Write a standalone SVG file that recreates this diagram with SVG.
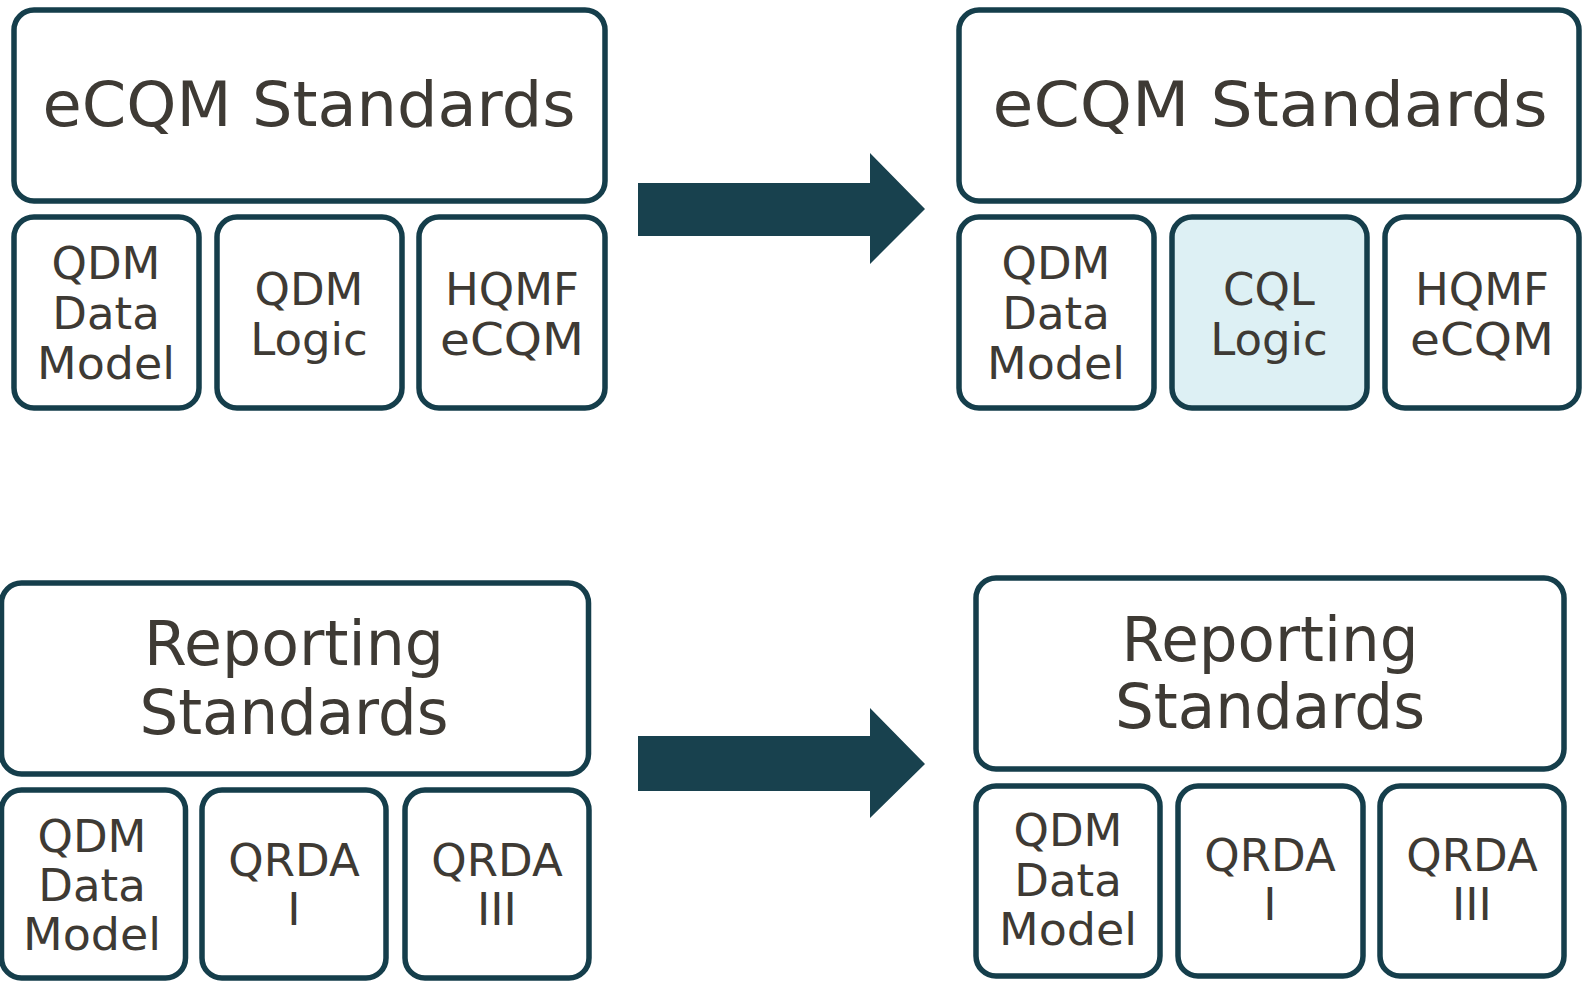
<svg xmlns="http://www.w3.org/2000/svg" width="1582" height="981" viewBox="0 0 1582 981">
<style>
.box{fill:#ffffff;stroke:#153e4b;stroke-width:5.5}
.hl{fill:#ddf0f4}
.arrow{fill:#18414e}
text{font-family:"DejaVu Sans","Liberation Sans",sans-serif;fill:#3e3a34;text-anchor:middle}
.big{font-size:62px}
.sm{font-size:45px}
</style>
<rect width="1582" height="981" fill="#ffffff"/>
<g id="connectors">
<polygon class="arrow" points="638,183 870,183 870,153 925,209 870,264 870,236 638,236"/>
<polygon class="arrow" points="638,736 870,736 870,708 925,764 870,818 870,791 638,791"/>
</g>
<g id="ecqm-old">
<rect class="box" x="14" y="10" width="591" height="191" rx="20"/>
<text class="big" x="309" y="126" textLength="533" lengthAdjust="spacingAndGlyphs">eCQM Standards</text>
</g>
<g id="qdm-model-1">
<rect class="box" x="14" y="217" width="185" height="191" rx="20"/>
<text class="sm" x="106" y="279">QDM</text>
<text class="sm" x="106" y="329">Data</text>
<text class="sm" x="106" y="379" textLength="138" lengthAdjust="spacingAndGlyphs">Model</text>
</g>
<g id="qdm-logic">
<rect class="box" x="217" y="217" width="185" height="191" rx="20"/>
<text class="sm" x="309" y="305">QDM</text>
<text class="sm" x="309" y="355">Logic</text>
</g>
<g id="hqmf-1">
<rect class="box" x="419" y="217" width="186" height="191" rx="20"/>
<text class="sm" x="512" y="305">HQMF</text>
<text class="sm" x="512" y="355" textLength="144" lengthAdjust="spacingAndGlyphs">eCQM</text>
</g>
<g id="ecqm-new">
<rect class="box" x="959" y="10" width="620" height="191" rx="20"/>
<text class="big" x="1270" y="126" textLength="555" lengthAdjust="spacingAndGlyphs">eCQM Standards</text>
</g>
<g id="qdm-model-2">
<rect class="box" x="959" y="217" width="195" height="191" rx="20"/>
<text class="sm" x="1056" y="279">QDM</text>
<text class="sm" x="1056" y="329">Data</text>
<text class="sm" x="1056" y="379" textLength="138" lengthAdjust="spacingAndGlyphs">Model</text>
</g>
<g id="cql-logic">
<rect class="box hl" x="1172" y="217" width="195" height="191" rx="20"/>
<text class="sm" x="1269" y="305">CQL</text>
<text class="sm" x="1269" y="355">Logic</text>
</g>
<g id="hqmf-2">
<rect class="box" x="1385" y="217" width="194" height="191" rx="20"/>
<text class="sm" x="1482" y="305">HQMF</text>
<text class="sm" x="1482" y="355" textLength="144" lengthAdjust="spacingAndGlyphs">eCQM</text>
</g>
<g id="reporting-old">
<rect class="box" x="1.5" y="583" width="587" height="191" rx="20"/>
<text class="big" x="294" y="665" textLength="300" lengthAdjust="spacingAndGlyphs">Reporting</text>
<text class="big" x="294" y="734" textLength="309" lengthAdjust="spacingAndGlyphs">Standards</text>
</g>
<g id="qdm-model-3">
<rect class="box" x="1.5" y="790" width="184" height="188" rx="20"/>
<text class="sm" x="92" y="852">QDM</text>
<text class="sm" x="92" y="901">Data</text>
<text class="sm" x="92" y="950" textLength="138" lengthAdjust="spacingAndGlyphs">Model</text>
</g>
<g id="qrda-i-1">
<rect class="box" x="202" y="790" width="184" height="188" rx="20"/>
<text class="sm" x="294" y="876">QRDA</text>
<text class="sm" x="294" y="925">I</text>
</g>
<g id="qrda-iii-1">
<rect class="box" x="405" y="790" width="184" height="188" rx="20"/>
<text class="sm" x="497" y="876">QRDA</text>
<text class="sm" x="497" y="925">III</text>
</g>
<g id="reporting-new">
<rect class="box" x="976" y="578" width="588" height="191" rx="20"/>
<text class="big" x="1270" y="661" textLength="297" lengthAdjust="spacingAndGlyphs">Reporting</text>
<text class="big" x="1270" y="728" textLength="310" lengthAdjust="spacingAndGlyphs">Standards</text>
</g>
<g id="qdm-model-4">
<rect class="box" x="976" y="786" width="184" height="190" rx="20"/>
<text class="sm" x="1068" y="846">QDM</text>
<text class="sm" x="1068" y="896">Data</text>
<text class="sm" x="1068" y="945" textLength="138" lengthAdjust="spacingAndGlyphs">Model</text>
</g>
<g id="qrda-i-2">
<rect class="box" x="1178" y="786" width="185" height="190" rx="20"/>
<text class="sm" x="1270" y="871">QRDA</text>
<text class="sm" x="1270" y="920">I</text>
</g>
<g id="qrda-iii-2">
<rect class="box" x="1380" y="786" width="184" height="190" rx="20"/>
<text class="sm" x="1472" y="871">QRDA</text>
<text class="sm" x="1472" y="920">III</text>
</g>
</svg>
